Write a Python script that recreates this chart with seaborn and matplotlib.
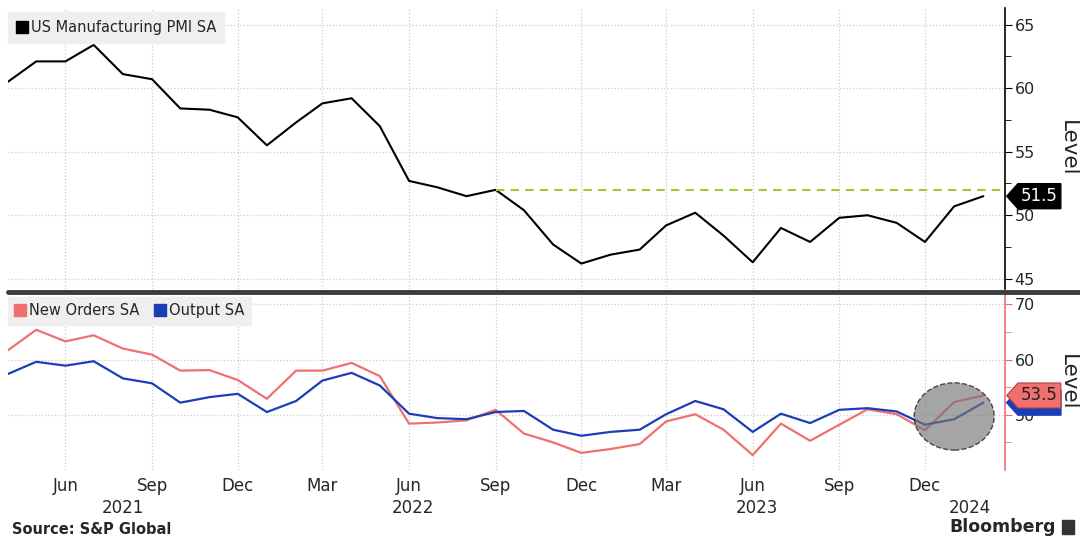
import pandas as pd
import matplotlib
matplotlib.use("Agg")
import matplotlib.pyplot as plt
import matplotlib.dates as mdates
from matplotlib.ticker import MultipleLocator, FixedLocator
from matplotlib.patches import Ellipse, Rectangle
from matplotlib.lines import Line2D
from matplotlib.path import Path
import seaborn as sns

# monthly readings, Apr 2021 .. Feb 2024
months = pd.date_range("2021-04-01", periods=35, freq="MS")
pmi = [60.5, 62.1, 62.1, 63.4, 61.1, 60.7, 58.4, 58.3, 57.7,
       55.5, 57.3, 58.8, 59.2, 57.0, 52.7, 52.2, 51.5, 52.0, 50.4, 47.7, 46.2,
       46.9, 47.3, 49.2, 50.2, 48.4, 46.3, 49.0, 47.9, 49.8, 50.0, 49.4, 47.9,
       50.7, 51.5]
new_orders = [61.7, 65.4, 63.3, 64.4, 62.0, 60.9, 58.0, 58.1, 56.3,
              52.9, 58.0, 58.0, 59.4, 57.0, 48.4, 48.6, 49.0, 50.9, 46.6, 45.0, 43.1,
              43.8, 44.7, 48.8, 50.1, 47.3, 42.7, 48.4, 45.3, 48.2, 51.0, 50.1, 47.2,
              52.3, 53.5]
output = [57.4, 59.6, 58.9, 59.7, 56.6, 55.7, 52.2, 53.2, 53.8,
          50.5, 52.5, 56.2, 57.6, 55.3, 50.2, 49.4, 49.2, 50.5, 50.7, 47.3, 46.2,
          46.9, 47.3, 50.1, 52.5, 51.0, 46.9, 50.2, 48.5, 50.9, 51.2, 50.6, 48.2,
          49.2, 52.2]
year_labels = ["2021", "2022", "2023", "2024"]
year_pos = ["2021-08-01", "2022-06-05", "2023-06-05", "2024-01-18"]
ref_month = "2022-09-01"

PINK = "#f07070"
BLUE = "#1c3db8"
GRID = "#cccccc"

sns.set_style("white")
plt.rcParams["font.family"] = ["DejaVu Sans"]


def tag_box(x0, y0, width, height, mutation_size):
    # price-tag shape pointing at the axis
    pad = 0.3 * mutation_size
    x0, y0 = x0 - 0.6 * pad, y0 - 0.7 * pad
    width, height = width + 1.2 * pad, height + 1.4 * pad
    tip = height * 0.45
    verts = [(x0 - tip, y0 + height / 2), (x0, y0), (x0 + width, y0),
             (x0 + width, y0 + height), (x0, y0 + height), (x0 - tip, y0 + height / 2)]
    codes = [Path.MOVETO] + [Path.LINETO] * 4 + [Path.CLOSEPOLY]
    return Path(verts, codes)


fig = plt.figure(figsize=(10.8, 5.38), dpi=100)
ax1 = fig.add_axes([8 / 1080, 1 - 289 / 538, 997 / 1080, 281 / 538])
ax2 = fig.add_axes([8 / 1080, 1 - 470 / 538, 997 / 1080, 175 / 538])

xlim = (pd.Timestamp("2021-04-01"), pd.Timestamp("2024-02-24"))

# top panel: headline PMI
sns.lineplot(x=months, y=pmi, ax=ax1, color="black", lw=1.5)
ref_i = list(months).index(pd.Timestamp(ref_month))
ax1.hlines(pmi[ref_i], months[ref_i], xlim[1], colors="#9acd32", linestyles=(0, (4, 3)), lw=1.5)

# bottom panel: components
df = pd.DataFrame({"date": list(months) * 2,
                   "value": new_orders + output,
                   "series": ["New Orders SA"] * len(months) + ["Output SA"] * len(months)})
sns.lineplot(data=df, x="date", y="value", hue="series", ax=ax2,
             palette={"New Orders SA": PINK, "Output SA": BLUE}, lw=1.6, legend=False)

ell = Ellipse((mdates.date2num(months[-2]), 49.7), width=85, height=12.2,
              facecolor="#757575", edgecolor="black", ls="--", lw=1, alpha=0.65, zorder=5)
ax2.add_patch(ell)

for ax, spine_col in [(ax1, "black"), (ax2, PINK)]:
    ax.set_xlim(xlim)
    for s in ["left", "top", "bottom"]:
        ax.spines[s].set_visible(False)
    ax.spines["right"].set_color(spine_col)
    ax.spines["right"].set_linewidth(1.2)
    ax.yaxis.tick_right()
    ax.tick_params(axis="y", which="major", direction="out", length=5, color=spine_col,
                   labelsize=11.5, pad=2)
    ax.tick_params(axis="y", which="minor", direction="out", length=4, color=spine_col)
    ax.xaxis.set_major_locator(mdates.MonthLocator(bymonth=[3, 6, 9, 12]))
    ax.xaxis.set_major_formatter(mdates.DateFormatter("%b"))
    ax.tick_params(axis="x", length=0)
    ax.grid(True, which="major", ls=":", color=GRID, lw=0.9)
    ax.set_xlabel("")
    ax.set_ylabel("")
    ax.text(1.063, 0.5, "Level", transform=ax.transAxes, rotation=270,
            ha="center", va="center", fontsize=15.5)

ax1.set_ylim(44.2, 66.3)
ax1.yaxis.set_major_locator(MultipleLocator(5))
ax1.yaxis.set_minor_locator(MultipleLocator(2.5))
ax1.tick_params(axis="x", labelbottom=False)

ax2.set_ylim(40, 71.7)
ax2.yaxis.set_major_locator(FixedLocator([50, 60, 70]))
ax2.yaxis.set_minor_locator(FixedLocator([45, 55, 65]))
ax2.tick_params(axis="x", labelsize=12, pad=5)

trans2 = ax2.get_xaxis_transform()
for lab, pos in zip(year_labels, year_pos):
    ax2.text(pd.Timestamp(pos), -0.215, lab, transform=trans2, ha="center", va="center", fontsize=12)

# last-value tags (output tag sits mostly hidden behind the new-orders tag)
ax1.text(1.016, pmi[-1], f"{pmi[-1]:.1f}", transform=ax1.get_yaxis_transform(),
         ha="left", va="center", color="white", fontsize=12, clip_on=False, zorder=10,
         bbox=dict(boxstyle=tag_box, fc="black", ec="black"))
ax2.text(1.016, output[-1], f"{output[-1]:.1f}", transform=ax2.get_yaxis_transform(),
         ha="left", va="center", color="white", fontsize=12, clip_on=False, zorder=10,
         bbox=dict(boxstyle=tag_box, fc=BLUE, ec=BLUE))
ax2.text(1.016, new_orders[-1], f"{new_orders[-1]:.1f}", transform=ax2.get_yaxis_transform(),
         ha="left", va="center", color="#222222", fontsize=12, clip_on=False, zorder=11,
         bbox=dict(boxstyle=tag_box, fc=PINK, ec="#b04040", lw=0.8))

# legends
h1 = [Line2D([], [], marker="s", color="black", ls="none", ms=8)]
ax1.legend(h1, ["US Manufacturing PMI SA"], loc="upper left", bbox_to_anchor=(0.0, 0.985),
           frameon=True, facecolor="#efefef", edgecolor="#efefef", framealpha=1,
           fancybox=False, fontsize=10.5, handletextpad=0.2, handlelength=0.8,
           borderpad=0.55, borderaxespad=0.0)
h2 = [Line2D([], [], marker="s", color=PINK, ls="none", ms=8),
      Line2D([], [], marker="s", color=BLUE, ls="none", ms=8)]
ax2.legend(h2, ["New Orders SA", "Output SA"], loc="upper left", bbox_to_anchor=(0.0, 0.99),
           ncol=2, frameon=True, facecolor="#efefef", edgecolor="#efefef", framealpha=1,
           fancybox=False, fontsize=10.5, handletextpad=0.2, handlelength=0.8,
           columnspacing=1.0, borderpad=0.45, borderaxespad=0.0)

# panel separator and footer
fig.add_artist(Line2D([8 / 1080, 1.0], [1 - 291.5 / 538] * 2, color="#3c3c3c", lw=3.5))
fig.text(12 / 1080, 1 - 529 / 538, "Source: S&P Global", fontsize=10.5, fontweight="bold",
         ha="left", va="center")
fig.text(1056 / 1080, 1 - 527 / 538, "Bloomberg", fontsize=12.5, fontweight="bold",
         ha="right", va="center")
fig.add_artist(Rectangle((1062 / 1080, 1 - 534 / 538), 12 / 1080, 14 / 538,
                         transform=fig.transFigure, color="#333333"))

fig.savefig("out.png", dpi=100)
